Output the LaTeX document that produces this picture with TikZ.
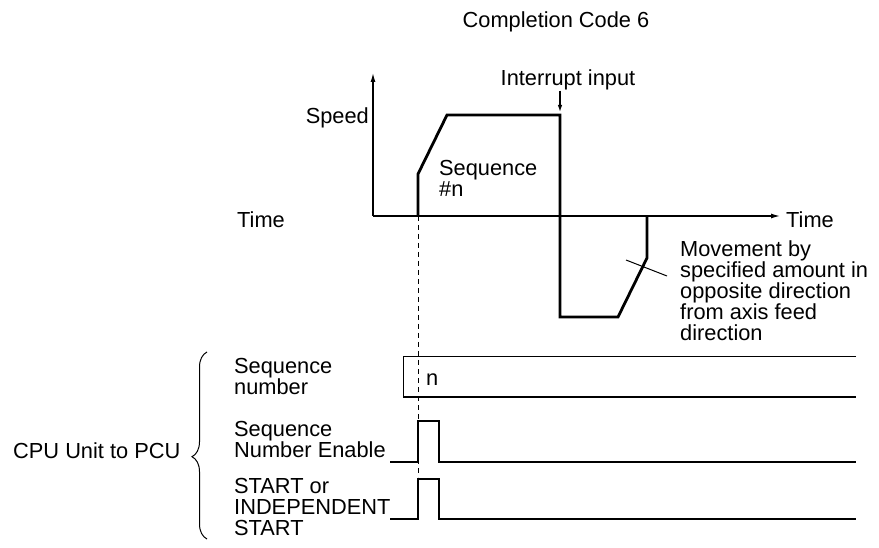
\documentclass[tikz,border=0pt]{standalone}
\usepackage{fontspec}
\setmainfont{Liberation Sans}
\usetikzlibrary{arrows.meta,decorations.pathreplacing}

\begin{document}
\begin{tikzpicture}[
  x=1pt,y=-1pt,
  lbl/.style={font=\fontsize{21.8}{21}\selectfont,inner sep=0pt,align=left},
  axis/.style={-{Latex[length=9pt,width=5pt]},line width=1.2pt},
  arr/.style={-{Latex[length=7pt,width=4.5pt]},line width=1.2pt},
  profile/.style={line width=2.8pt,line join=miter},
  sig/.style={line width=1.8pt},
  thin line/.style={line width=1pt}
]
\useasboundingbox (0,0) rectangle (879,548);
% speed diagram (base of a multi-line label = its last line)
\coordinate (orig) at (373,216);
\coordinate (start) at (418,216);
\coordinate (cut) at (560,115);
\node[lbl,anchor=base] (title) at (556,28) {Completion Code 6};
\node[lbl,anchor=base] (intr) at (568,86) {Interrupt input};
\node[lbl,anchor=base east] (speed) at (369,124) {Speed};
\node[lbl,anchor=base west] (timel) at (237,228) {Time};
\node[lbl,anchor=base west] (timer) at (786,228) {Time};
\node[lbl,anchor=base west] (seq) at (439,197) {Sequence\\\#n};
\node[lbl,anchor=base west] (move) at (680,341) {Movement by\\specified amount in\\opposite direction\\from axis feed\\direction};
\draw[axis] (orig) -- (373,73);
\draw[axis] (orig) -- (780,216);
\draw[profile] (start) -- (418,174) -- (447,115) -- (cut) -- (560,317)
  -- (618,317) -- (647,258) -- (647,216);
\draw[arr] (intr.south -| cut) -- ([yshift=3pt]cut);
\coordinate (mv1) at (626,260);
\coordinate (mv2) at (667,276);
\draw[thin line] (mv1) -- (mv2);
\draw[thin line,dash pattern=on 5pt off 4pt] (start) -- (418,477);
% signals from the CPU Unit
\node[lbl,anchor=base west] (seqlbl) at (234,395) {Sequence\\number};
\node[lbl,anchor=base west] (snelbl) at (234,457) {Sequence\\Number Enable};
\node[lbl,anchor=base west] (stlbl) at (234,535) {START or\\INDEPENDENT\\START};
\node[lbl,anchor=base west] (cpu) at (13,458) {CPU Unit to PCU};
\node[lbl,anchor=base west] (nval) at (426,385) {n};
\draw[thin line] (856,357) -- (403,357) -- (403,397);
\draw[sig] (403,397) -- (856,397);
\draw[sig] (390,462) -- (418,462) -- (418,421) -- (439,421) -- (439,462) -- (856,462);
\draw[sig] (390,519) -- (418,519) -- (418,479) -- (439,479) -- (439,519) -- (856,519);
\draw[thin line,decorate,decoration={brace,amplitude=15pt,aspect=0.44}]
  (207,539) -- (207,352);
\end{tikzpicture}
\end{document}
